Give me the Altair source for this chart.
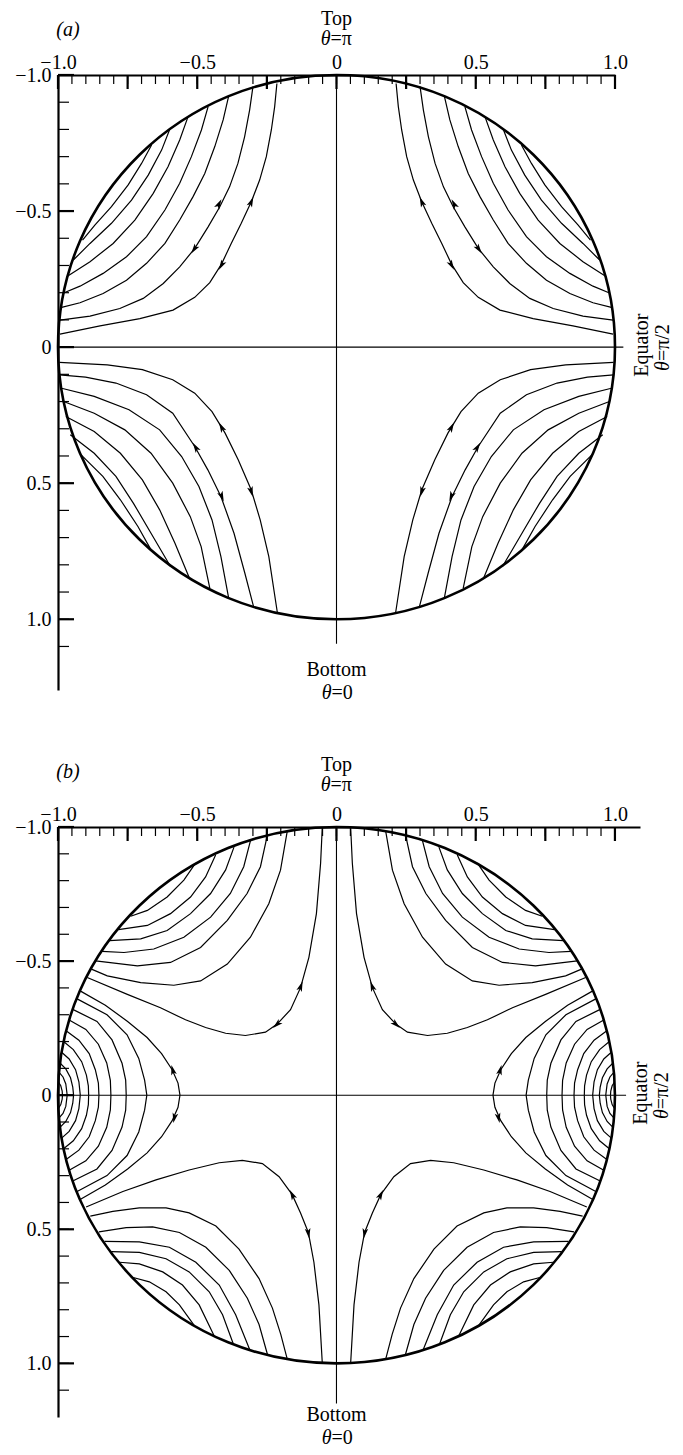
import altair as alt
import pandas as pd

FONT = "Liberation Serif"

# ---------------- Panel (a): streamlines, left half (right half = mirror x -> -x) ----------------
A_UPPER = [
    [(-0.214, -0.969), (-0.222, -0.884), (-0.234, -0.798), (-0.252, -0.700), (-0.276, -0.614),
     (-0.306, -0.534), (-0.342, -0.455), (-0.378, -0.381), (-0.413, -0.305), (-0.455, -0.237),
     (-0.509, -0.183), (-0.587, -0.136), (-0.706, -0.105), (-0.849, -0.078), (-0.993, -0.048)],
    [(-0.300, -0.957), (-0.312, -0.871), (-0.330, -0.773), (-0.354, -0.675), (-0.384, -0.589),
     (-0.419, -0.516), (-0.461, -0.442), (-0.509, -0.363), (-0.563, -0.295), (-0.622, -0.234),
     (-0.694, -0.179), (-0.778, -0.142), (-0.885, -0.114), (-0.993, -0.099)],
    [(-0.387, -0.923), (-0.407, -0.835), (-0.437, -0.737), (-0.473, -0.638), (-0.515, -0.553),
     (-0.563, -0.467), (-0.616, -0.381), (-0.682, -0.308), (-0.754, -0.246), (-0.838, -0.197),
     (-0.921, -0.163), (-0.987, -0.146)],
    [(-0.461, -0.884), (-0.485, -0.798), (-0.521, -0.700), (-0.563, -0.602), (-0.616, -0.504),
     (-0.682, -0.406), (-0.754, -0.332), (-0.838, -0.271), (-0.921, -0.224), (-0.978, -0.200)],
    [(-0.533, -0.847), (-0.563, -0.761), (-0.605, -0.663), (-0.658, -0.565), (-0.724, -0.467),
     (-0.802, -0.381), (-0.885, -0.314), (-0.969, -0.259)],
    [(-0.599, -0.800), (-0.628, -0.724), (-0.676, -0.632), (-0.736, -0.540), (-0.808, -0.455),
     (-0.885, -0.381), (-0.945, -0.320)],
    [(-0.664, -0.743), (-0.700, -0.675), (-0.748, -0.596), (-0.808, -0.516), (-0.867, -0.449),
     (-0.912, -0.393)],
]
A_LOWER = [
    [(-0.995, 0.056), (-0.823, 0.065), (-0.697, 0.083), (-0.588, 0.120), (-0.509, 0.169),
     (-0.447, 0.237), (-0.400, 0.316), (-0.353, 0.414), (-0.306, 0.525), (-0.274, 0.635),
     (-0.243, 0.770), (-0.212, 0.978)],
    [(-0.995, 0.102), (-0.901, 0.110), (-0.792, 0.132), (-0.682, 0.175), (-0.588, 0.243),
     (-0.509, 0.365), (-0.462, 0.451), (-0.415, 0.549), (-0.368, 0.684), (-0.329, 0.831),
     (-0.298, 0.953)],
    [(-0.987, 0.151), (-0.870, 0.181), (-0.745, 0.230), (-0.635, 0.304), (-0.556, 0.402),
     (-0.494, 0.512), (-0.447, 0.635), (-0.415, 0.770), (-0.387, 0.923)],
    [(-0.980, 0.200), (-0.870, 0.243), (-0.760, 0.304), (-0.666, 0.390), (-0.588, 0.500),
     (-0.525, 0.623), (-0.486, 0.733), (-0.455, 0.886)],
    [(-0.972, 0.255), (-0.870, 0.310), (-0.776, 0.390), (-0.697, 0.488), (-0.635, 0.598),
     (-0.580, 0.721), (-0.528, 0.849)],
    [(-0.956, 0.322), (-0.870, 0.390), (-0.792, 0.475), (-0.729, 0.574), (-0.666, 0.684),
     (-0.596, 0.806)],
    [(-0.917, 0.396), (-0.839, 0.475), (-0.776, 0.561), (-0.713, 0.659), (-0.666, 0.745)],
]
# arrowheads (x, y, direction in degrees clockwise from "up"), left half
A_ARROWS = [(-0.306, -0.534, 23), (-0.413, -0.301, 209), (-0.422, -0.526, 28), (-0.511, -0.360, 215),
            (-0.413, 0.294, 332), (-0.306, 0.531, 164), (-0.506, 0.368, 328), (-0.412, 0.549, 158)]

# ---------------- Panel (b): streamlines, left half ----------------
B_UPPER = [
    [(-0.506, -0.865), (-0.548, -0.802), (-0.608, -0.739), (-0.679, -0.689), (-0.739, -0.667)],
    [(-0.434, -0.896), (-0.470, -0.814), (-0.524, -0.739), (-0.596, -0.677), (-0.679, -0.633),
     (-0.783, -0.617)],
    [(-0.368, -0.925), (-0.398, -0.840), (-0.452, -0.752), (-0.524, -0.677), (-0.608, -0.614),
     (-0.703, -0.583), (-0.815, -0.576)],
    [(-0.309, -0.948), (-0.333, -0.852), (-0.381, -0.752), (-0.452, -0.664), (-0.548, -0.589),
     (-0.656, -0.545), (-0.763, -0.532), (-0.842, -0.536)],
    [(-0.249, -0.966), (-0.273, -0.852), (-0.321, -0.752), (-0.392, -0.652), (-0.488, -0.551),
     (-0.596, -0.495), (-0.715, -0.482), (-0.865, -0.501)],
    [(-0.177, -0.983), (-0.201, -0.839), (-0.243, -0.714), (-0.309, -0.589), (-0.392, -0.489),
     (-0.488, -0.426), (-0.584, -0.410), (-0.703, -0.420), (-0.823, -0.445), (-0.880, -0.470)],
    [(-0.051, -0.997), (-0.057, -0.865), (-0.072, -0.677), (-0.099, -0.514), (-0.129, -0.401),
     (-0.165, -0.319), (-0.213, -0.265), (-0.255, -0.235), (-0.327, -0.2225), (-0.398, -0.231),
     (-0.470, -0.2525), (-0.542, -0.281), (-0.632, -0.326), (-0.751, -0.376), (-0.895, -0.439)],
]
B_LOWER = [
    [(-0.730, 0.680), (-0.672, 0.696), (-0.612, 0.733), (-0.564, 0.782), (-0.511, 0.858)],
    [(-0.779, 0.623), (-0.708, 0.629), (-0.624, 0.659), (-0.553, 0.708), (-0.493, 0.782),
     (-0.439, 0.898)],
    [(-0.809, 0.583), (-0.708, 0.586), (-0.612, 0.610), (-0.529, 0.659), (-0.457, 0.733),
     (-0.409, 0.819), (-0.371, 0.926)],
    [(-0.833, 0.545), (-0.708, 0.547), (-0.600, 0.567), (-0.505, 0.623), (-0.421, 0.708),
     (-0.362, 0.819), (-0.311, 0.950)],
    [(-0.853, 0.510), (-0.755, 0.494), (-0.660, 0.491), (-0.564, 0.512), (-0.469, 0.567),
     (-0.385, 0.653), (-0.320, 0.757), (-0.278, 0.855), (-0.248, 0.966)],
    [(-0.884, 0.451), (-0.803, 0.433), (-0.708, 0.420), (-0.612, 0.420), (-0.529, 0.439),
     (-0.433, 0.488), (-0.350, 0.574), (-0.278, 0.684), (-0.230, 0.794), (-0.200, 0.892),
     (-0.177, 0.983)],
    [(-0.899, 0.417), (-0.767, 0.359), (-0.648, 0.316), (-0.529, 0.279), (-0.421, 0.252),
     (-0.338, 0.243), (-0.266, 0.255), (-0.206, 0.304), (-0.159, 0.371), (-0.129, 0.439),
     (-0.101, 0.512), (-0.081, 0.623), (-0.063, 0.782), (-0.051, 0.998)],
]
# nested curves around the equator: upper halves (lower halves = mirror y -> -y)
B_MID = [
    [(-0.919, -0.388), (-0.830, -0.335), (-0.750, -0.275), (-0.680, -0.215), (-0.628, -0.155),
     (-0.590, -0.095), (-0.569, -0.045), (-0.562, 0.0)],
    [(-0.933, -0.360), (-0.824, -0.300), (-0.752, -0.225), (-0.710, -0.137), (-0.689, -0.056),
     (-0.681, 0.0)],
    [(-0.947, -0.320), (-0.860, -0.275), (-0.806, -0.206), (-0.770, -0.119), (-0.757, -0.056),
     (-0.755, 0.0)],
    [(-0.960, -0.280), (-0.900, -0.245), (-0.855, -0.190), (-0.825, -0.120), (-0.812, -0.055),
     (-0.810, 0.0)],
    [(-0.971, -0.240), (-0.925, -0.205), (-0.888, -0.155), (-0.866, -0.095), (-0.855, -0.045),
     (-0.853, 0.0)],
    [(-0.980, -0.200), (-0.945, -0.170), (-0.915, -0.125), (-0.898, -0.075), (-0.891, -0.035),
     (-0.890, 0.0)],
    [(-0.987, -0.160), (-0.960, -0.135), (-0.937, -0.095), (-0.925, -0.050), (-0.920, 0.0)],
    [(-0.993, -0.120), (-0.972, -0.098), (-0.955, -0.065), (-0.947, -0.030), (-0.944, 0.0)],
    [(-0.996, -0.085), (-0.982, -0.068), (-0.972, -0.042), (-0.967, 0.0)],
    [(-0.999, -0.050), (-0.990, -0.035), (-0.985, -0.015), (-0.984, 0.0)],
]
B_ARROWS = [(-0.128, -0.406, 20), (-0.214, -0.264, 228), (-0.588, -0.094, 345), (-0.582, 0.085, 192),
            (-0.159, 0.371, 333), (-0.101, 0.515, 171)]

# ---------------- axes ----------------
X_LABELS = [-1.0, -0.5, 0.0, 0.5, 1.0]
Y_LABELS = [-1.0, -0.5, 0.0, 0.5, 1.0]
X_MINOR = [round(-1 + 0.05 * i, 2) for i in range(41)]
X_MAJOR = [-1.0, -0.75, -0.5, -0.25, 0.0, 0.25, 0.5, 0.75, 1.0]
Y_MINOR = [round(-1 + 0.1 * i, 1) for i in range(22)]
Y_MAJOR = [-1.0, -0.5, 0.0, 0.5, 1.0]

ARROW = "M0,-1L0.55,0.95L0,0.5L-0.55,0.95Z"
LABEL_EXPR = "datum.value == 0 ? '0' : replace(format(datum.value, '.1f'), '-', '\u2212')"


def build_lines(curve_sets):
    rows = []
    cid = 0
    for curves, flip_y in curve_sets:
        for pts in curves:
            for sy in ([1, -1] if flip_y else [1]):
                for sx in (1, -1):
                    for k, (x, y) in enumerate(pts):
                        rows.append({"cid": cid, "k": k, "x": sx * x, "y": sy * y})
                    cid += 1
    return pd.DataFrame(rows)


def build_arrows(arrows):
    rows = []
    for x, y, a in arrows:
        rows.append({"x": x, "y": y, "a": a})
        rows.append({"x": -x, "y": y, "a": (360 - a) % 360})
    return pd.DataFrame(rows)


def text_layer(txt, px, py, size=20, italic=False, angle=0, align="center"):
    kw = dict(font=FONT, fontSize=size, color="black", align=align, baseline="middle")
    if italic:
        kw["fontStyle"] = "italic"
    if angle:
        kw["angle"] = angle
    return alt.Chart(pd.DataFrame({"t": [txt]})).mark_text(**kw).encode(
        text="t:N", x=alt.value(px), y=alt.value(py))


def theta_label(rest, px, py, split, angle=0):
    """italic theta followed by upright rest, split point offset along the text direction"""
    if angle:
        return [text_layer("\u03b8", px, py + split, italic=True, angle=angle, align="right"),
                text_layer(rest, px, py + split, angle=angle, align="left")]
    return [text_layer("\u03b8", px - split, py, italic=True, align="right"),
            text_layer(rest, px - split, py, align="left")]


def panel(lines, arrows, xmax, ymax, W, H, vline_end, hline_end, tag, t):
    xs = alt.Scale(domain=[-1, xmax], nice=False, zero=False)
    ys = alt.Scale(domain=[-1, ymax], nice=False, zero=False, reverse=True)
    common = dict(ticks=False, tickSize=0, grid=False, title=None, domainColor="black",
                  domainWidth=2.2, labelFont=FONT, labelFontSize=20, labelColor="black",
                  labelFlush=False, labelOverlap=False, labelBound=False, labelExpr=LABEL_EXPR)
    xa = alt.Axis(orient="top", values=X_LABELS, labelPadding=3, **common)
    ya = alt.Axis(orient="left", values=Y_LABELS, labelPadding=7, **common)

    def X(f):
        return alt.X(f + ":Q", scale=xs, axis=xa)

    def Y(f):
        return alt.Y(f + ":Q", scale=ys, axis=ya)

    rx = W / (xmax + 1)
    ry = H / (ymax + 1)
    k = ry / rx
    ellipse = f"M-1,0A1,{k:.4f} 0 1,1 1,0A1,{k:.4f} 0 1,1 -1,0Z"

    circle = alt.Chart(pd.DataFrame({"x": [0.0], "y": [0.0]})).mark_point(
        shape=ellipse, size=(2 * rx) ** 2, filled=False, stroke="black", strokeWidth=2.6,
        opacity=1).encode(x=X("x"), y=Y("y"))
    vline = alt.Chart(pd.DataFrame({"x": [0.0], "y1": [-1.0], "y2": [vline_end]})).mark_rule(
        color="black", strokeWidth=1.1).encode(x=X("x"), y=Y("y1"), y2="y2:Q")
    hline = alt.Chart(pd.DataFrame({"y": [0.0], "x1": [-1.0], "x2": [hline_end]})).mark_rule(
        color="black", strokeWidth=1.1).encode(y=Y("y"), x=X("x1"), x2="x2:Q")
    xminor = alt.Chart(pd.DataFrame({"v": X_MINOR})).mark_rule(color="black", strokeWidth=1.2).encode(
        x=X("v"), y=alt.value(0), y2=alt.value(9))
    xmajor = alt.Chart(pd.DataFrame({"v": X_MAJOR})).mark_rule(color="black", strokeWidth=2.2).encode(
        x=X("v"), y=alt.value(0), y2=alt.value(14))
    yminor = alt.Chart(pd.DataFrame({"v": Y_MINOR})).mark_rule(color="black", strokeWidth=1.2).encode(
        y=Y("v"), x=alt.value(0), x2=alt.value(11))
    ymajor = alt.Chart(pd.DataFrame({"v": Y_MAJOR})).mark_rule(color="black", strokeWidth=2.2).encode(
        y=Y("v"), x=alt.value(0), x2=alt.value(16))
    streams = alt.Chart(lines).mark_line(color="black", strokeWidth=1.2).encode(
        x=X("x"), y=Y("y"), detail="cid:N", order="k:Q")
    heads = alt.Chart(arrows).mark_point(shape=ARROW, filled=True, size=110, color="black",
                                         opacity=1, strokeWidth=0).encode(
        x=X("x"), y=Y("y"), angle=alt.Angle("a:Q", scale=None))

    cx = rx  # pixel of x = 0
    cy = ry  # pixel of y = 0
    texts = [
        text_layer(tag, 10, t["tag"], italic=True),
        text_layer("Top", cx, t["top"]),
        *theta_label("=\u03c0", cx, t["theta"], 6),
        text_layer("Bottom", cx, t["bottom"]),
        *theta_label("=0", cx, t["bottom"] + 23, 5),
        text_layer("Equator", cx + 305, cy - 2, angle=270),
        *theta_label("=\u03c0/2", cx + 326, cy, 14, angle=270),
    ]
    return alt.layer(circle, vline, hline, xminor, xmajor, yminor, ymajor, streams, heads,
                     *texts).properties(width=W, height=H)


lines_a = build_lines([(A_UPPER, False), (A_LOWER, False)])
arrows_a = build_arrows(A_ARROWS)
lines_b = build_lines([(B_UPPER, False), (B_LOWER, False), (B_MID, True)])
arrows_b = build_arrows(B_ARROWS)

pa = panel(lines_a, arrows_a, 1.0, 1.26, 557, 615, 1.09, 1.03, "(a)",
           {"tag": -45, "top": -56, "theta": -36, "bottom": 595})
pb = panel(lines_b, arrows_b, 1.09, 1.20, 582, 590, 1.15, 1.04, "(b)",
           {"tag": -55, "top": -62, "theta": -42, "bottom": 588})

chart = alt.vconcat(pa, pb, spacing=137, bounds="flush").properties(
    padding={"left": 6, "top": 0, "right": 0, "bottom": 0}
).configure_view(stroke="transparent")

chart.save("out.html", embed_options={"renderer": "svg", "actions": False})
